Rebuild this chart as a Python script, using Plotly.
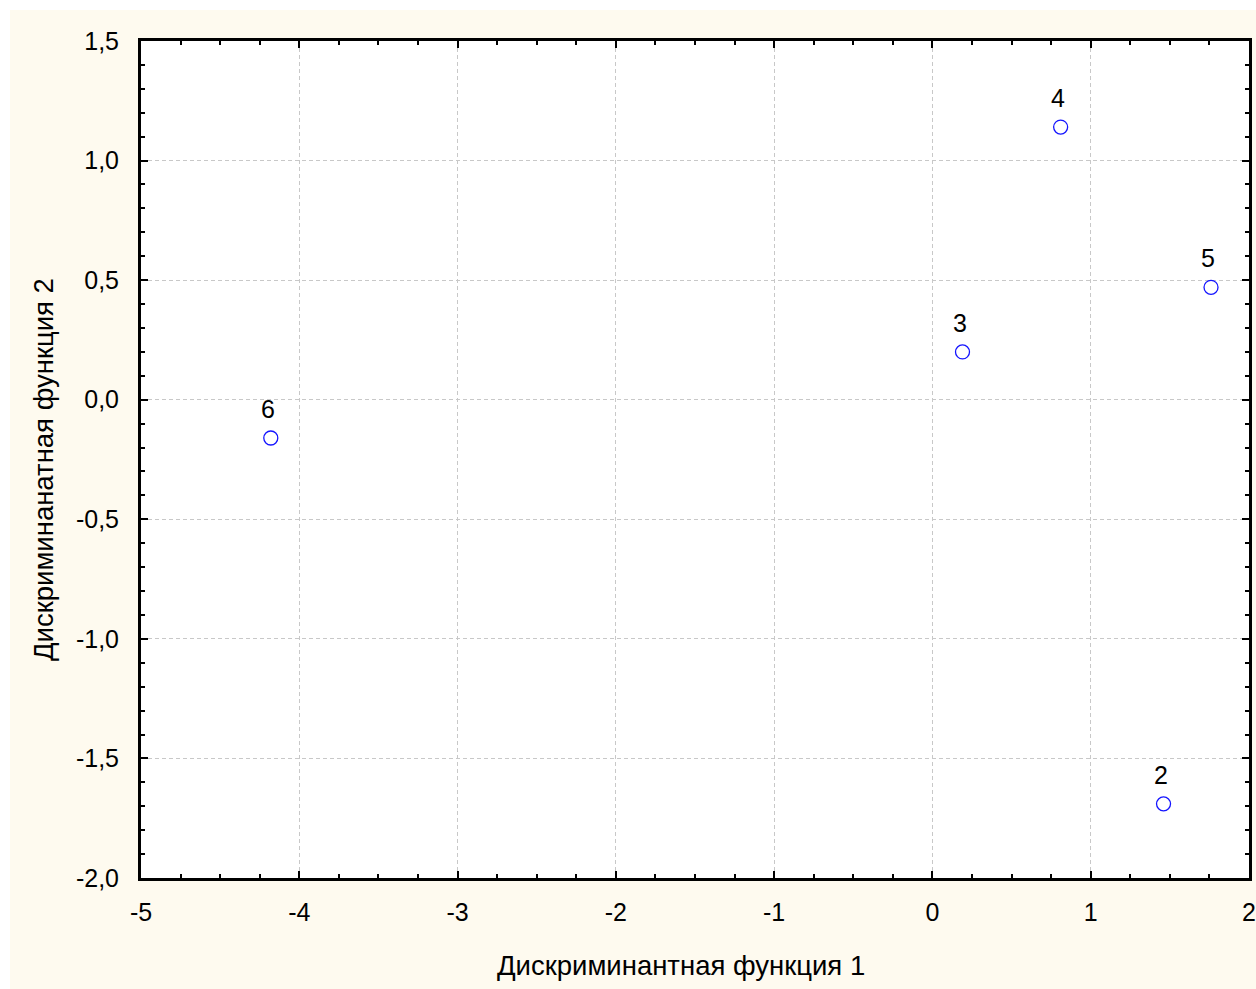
import plotly.graph_objects as go

# Data
labels = ["6", "3", "4", "5", "2"]
f1 = [-4.18, 0.19, 0.81, 1.76, 1.46]
f2 = [-0.16, 0.20, 1.14, 0.47, -1.69]

x_tickvals = [-5, -4, -3, -2, -1, 0, 1, 2]
x_ticktext = ["-5", "-4", "-3", "-2", "-1", "0", "1", "2"]
y_tickvals = [-2.0, -1.5, -1.0, -0.5, 0.0, 0.5, 1.0, 1.5]
y_ticktext = ["-2,0", "-1,5", "-1,0", "-0,5", "0,0", "0,5", "1,0", "1,5"]

W, H = 1256, 989
L, R, T, B = 141, 7, 41, 111
pw, ph = W - L - R, H - T - B

cream = "#FEFAEF"
font = "Liberation Sans, Arial, sans-serif"
FS = 25

fig = go.Figure()
fig.add_trace(go.Scatter(
    x=f1, y=f2, mode="markers",
    marker=dict(symbol="circle-open", size=14, color="#1414FF", line=dict(width=1.3)),
    hoverinfo="x+y", showlegend=False,
))

annotations = []
for lab, xv, yv in zip(labels, f1, f2):
    annotations.append(dict(x=xv, y=yv, text=lab, showarrow=False, yshift=29,
                            xshift=-3, font=dict(size=FS, color="black", family=font)))

annotations.append(dict(xref="paper", yref="paper", x=(681 - L) / pw, y=(H - 965 - B) / ph,
                        xanchor="center", yanchor="middle",
                        text="Дискриминантная функция 1", showarrow=False,
                        font=dict(size=27.5, color="black", family=font)))
annotations.append(dict(xref="paper", yref="paper", x=(43 - L) / pw, y=(H - 470 - B) / ph,
                        xanchor="center", yanchor="middle",
                        text="Дискриминанатная функция 2", showarrow=False, textangle=-90,
                        font=dict(size=27.5, color="black", family=font)))

axis_common = dict(
    showline=True, linecolor="black", linewidth=3, mirror="ticks",
    ticks="inside", ticklen=7, tickwidth=2, tickcolor="black",
    showgrid=True, gridcolor="#c8c8c8", griddash="4px,3px", gridwidth=1,
    zeroline=False, automargin=False,
    tickfont=dict(size=FS, color="black", family=font),
)

fig.update_layout(
    width=W, height=H,
    margin=dict(l=L, r=R, t=T, b=B),
    paper_bgcolor=cream, plot_bgcolor="white",
    xaxis=dict(range=[-5, 2], tickvals=x_tickvals, ticktext=x_ticktext,
               minor=dict(dtick=0.25, ticks="inside", ticklen=4, tickwidth=2, tickcolor="black", showgrid=False),
               ticklabelstandoff=10, **axis_common),
    yaxis=dict(range=[-2, 1.5], tickvals=y_tickvals, ticktext=y_ticktext,
               minor=dict(dtick=0.1, ticks="inside", ticklen=4, tickwidth=2, tickcolor="black", showgrid=False),
               ticklabelstandoff=14, **axis_common),
    annotations=annotations,
    shapes=[
        dict(type="rect", xref="paper", yref="paper", layer="below",
             x0=-L / pw, x1=(W - L) / pw, y0=(H - B - 10) / ph, y1=(H - B) / ph,
             fillcolor="white", line=dict(width=0)),
        dict(type="rect", xref="paper", yref="paper", layer="below",
             x0=-L / pw, x1=(10 - L) / pw, y0=-B / ph, y1=(H - B) / ph,
             fillcolor="white", line=dict(width=0)),
    ],
)

fig.write_html("out.html", config={"displayModeBar": False})

# remove the default body margin so the figure fills the window exactly
with open("out.html", encoding="utf-8") as fh:
    html = fh.read()
html = html.replace("<head>", "<head><style>html,body{margin:0;padding:0;overflow:hidden;}</style>", 1)
with open("out.html", "w", encoding="utf-8") as fh:
    fh.write(html)
